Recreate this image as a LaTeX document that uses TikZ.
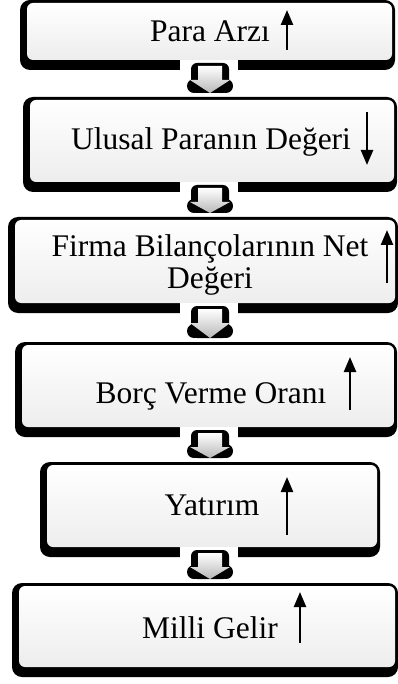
\documentclass[tikz,border=0pt]{standalone}
\usepackage{fontspec}
\setmainfont{Liberation Serif}
\usetikzlibrary{arrows.meta,calc}

\tikzset{
  panelshadow/.style={fill=black, rounded corners=10pt},
  panelface/.style={top color=white, bottom color=black!7, rounded corners=6pt},
  boxtext/.style={font=\fontsize{31.5}{31.5}\selectfont, anchor=base, inner sep=0pt},
  trend/.style={line width=2.4pt, -{Triangle[length=15pt,width=12pt]}},
}

% panel: black rounded slab with a lighter face lifted up and to the right
\newcommand\panel[5]{%
  \fill[panelshadow] (#1,#2) rectangle (#3,#4);
  \shade[panelface] (#1+7,#2+3) rectangle (#3-3,#4-10);
  \coordinate (#5n) at (210,#2);
  \coordinate (#5s) at (210,#4);
}

% block arrow from the bottom of one panel to the top of the next
\newcommand\flow[2]{%
  \fill[white] ($(#1)+(-30,-10)$) rectangle ($(#1)+(28,1)$);
  \fill[black, rounded corners=6pt] ($(#1)+(-19,-7)$) rectangle ($(#2)+(19,-4)$);
  \fill[black] ($(#2)+(-16,-11)$) circle [radius=7pt];
  \fill[black] ($(#2)+(16,-11)$) circle [radius=7pt];
  \shade[top color=white, bottom color=black!28]
    ($(#1)+(-12,-4)$) -- ($(#1)+(12,-4)$) -- ($(#1)+(12,10)$) -- ($(#1)+(20,10)$)
    -- ($(#2)+(0,-4)$) -- ($(#1)+(-20,10)$) -- ($(#1)+(-12,10)$) -- cycle;
}

\begin{document}
\begin{tikzpicture}[x=1pt, y=-1pt]
  \useasboundingbox (0,0) rectangle (398,684);

  \panel{20}{0}{395}{70}{p1}
  \panel{23}{97}{397}{192}{p2}
  \panel{8}{217}{398}{313}{p3}
  \panel{15}{342}{397}{437}{p4}
  \panel{40}{462}{380}{557}{p5}
  \panel{12}{583}{398}{677}{p6}

  \flow{p1s}{p2n}
  \flow{p2s}{p3n}
  \flow{p3s}{p4n}
  \flow{p4s}{p5n}
  \flow{p5s}{p6n}

  \node[boxtext] (t1) at (210,42) {Para Arzı};
  \node[boxtext] (t2) at (211,150) {Ulusal Paranın Değeri};
  \node[boxtext] (t3a) at (210,257) {Firma Bilançolarının Net};
  \node[boxtext] (t3b) at (210,288) {Değeri};
  \node[boxtext] (t4) at (211,403) {Borç Verme Oranı};
  \node[boxtext] (t5) at (212,515) {Yatırım};
  \node[boxtext] (t6) at (210,638) {Milli Gelir};

  \draw[trend] (287,50) -- (287,10);
  \draw[trend] (367,112) -- (367,165);
  \draw[trend] (387,283) -- (387,230);
  \draw[trend] (350,410) -- (350,357);
  \draw[trend] (287,535) -- (287,477);
  \draw[trend] (300,643) -- (300,592);
\end{tikzpicture}
\end{document}
